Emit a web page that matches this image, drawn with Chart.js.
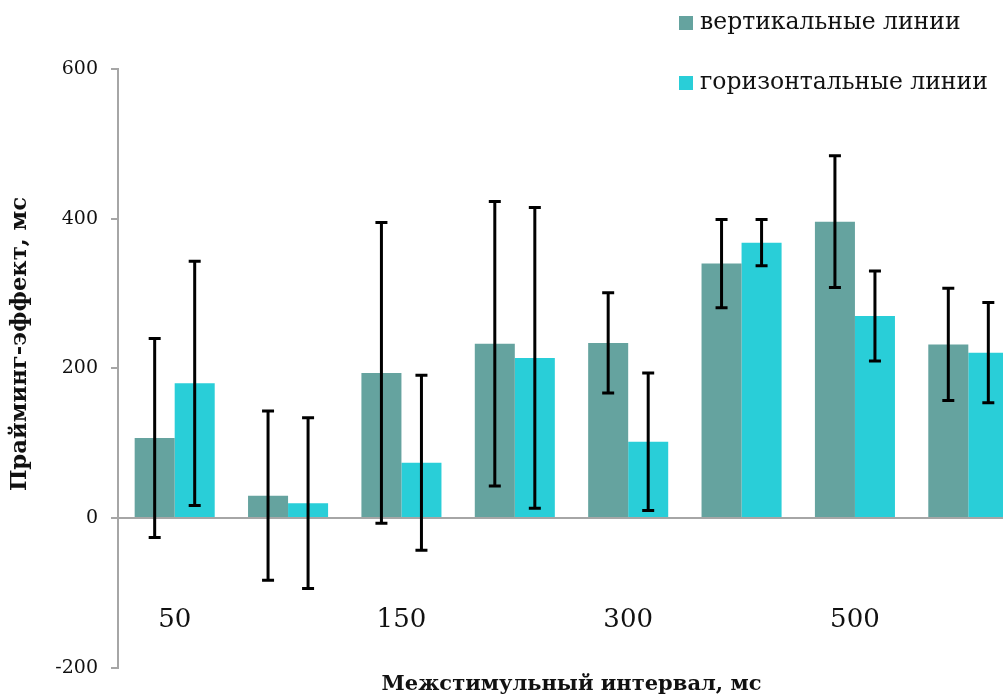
<!DOCTYPE html>
<html>
<head>
<meta charset="utf-8">
<script src="https://cdn.jsdelivr.net/npm/chart.js@4"></script>
<style>
    html, body { margin: 0; padding: 0; background: #fff; overflow: hidden; }
    canvas { display: block; }
</style>
</head>
<body>
<!-- canvas is a bit wider than the window: the original picture is cropped on the right -->
<canvas id="myChart" width="1030" height="695"></canvas>
<script>
// intervals; Excel only printed every other label
var labels = ['50', '', '150', '', '300', '', '500', ''];
var vertical = [107, 30, 194, 233, 234, 340, 396, 232];
var verticalErr = [133, 113, 201, 190, 67, 59, 88, 75];
var horizontal = [180, 20, 74, 214, 102, 368, 270, 221];
var horizontalErr = [163, 114, 117, 201, 92, 31, 60, 67];
var yTicks = [-200, 0, 200, 400, 600];
var yTitle = 'Прайминг-эффект, мс';

var serif = "'DejaVu Serif', serif";

// error bars: drawn from each bar's x and the y scale
const errorBars = {
    id: 'errorBars',
    afterDatasetsDraw(chart) {
        const ctx = chart.ctx;
        const y = chart.scales.y;
        ctx.save();
        ctx.strokeStyle = '#000';
        ctx.lineWidth = 3;
        chart.data.datasets.forEach(function (ds, i) {
            const meta = chart.getDatasetMeta(i);
            meta.data.forEach(function (bar, j) {
                const v = ds.data[j], e = ds.err[j];
                const top = y.getPixelForValue(v + e);
                const bot = y.getPixelForValue(v - e);
                ctx.beginPath();
                ctx.moveTo(bar.x, top);
                ctx.lineTo(bar.x, bot);
                ctx.moveTo(bar.x - 6, top);
                ctx.lineTo(bar.x + 6, top);
                ctx.moveTo(bar.x - 6, bot);
                ctx.lineTo(bar.x + 6, bot);
                ctx.stroke();
            });
        });
        ctx.restore();
    }
};

// floating legend top right + y title (sits a bit above the axis middle in the original)
const extras = {
    id: 'extras',
    afterDraw(chart) {
        const ctx = chart.ctx;
        ctx.save();
        ctx.font = "23.5px " + serif;
        ctx.textBaseline = 'middle';
        chart.data.datasets.forEach(function (ds, i) {
            const yy = 23 + i * 60;
            ctx.fillStyle = ds.backgroundColor;
            ctx.fillRect(679, yy - 7, 14, 14);
            ctx.fillStyle = '#111';
            ctx.fillText(ds.label, 700, yy);
        });
        ctx.translate(20, 344);
        ctx.rotate(-Math.PI / 2);
        ctx.textAlign = 'center';
        ctx.font = "bold 22.7px " + serif;
        ctx.fillText(yTitle, 0, 0);
        ctx.restore();
    }
};

const ctx = document.getElementById('myChart').getContext('2d');
const myChart = new Chart(ctx, {
    type: 'bar',
    data: {
        labels: labels,
        datasets: [{
            label: 'вертикальные линии',
            data: vertical,
            err: verticalErr,
            backgroundColor: '#65A39F',
            borderWidth: 0,
        }, {
            label: 'горизонтальные линии',
            data: horizontal,
            err: horizontalErr,
            backgroundColor: '#29CED8',
            borderWidth: 0,
        }],
    },
    options: {
        responsive: false,
        animation: false,
        devicePixelRatio: 1,
        categoryPercentage: 0.706,
        barPercentage: 1,
        layout: {
            padding: { left: 0, top: 69, right: 5, bottom: 0 }
        },
        plugins: {
            legend: { display: false },
            tooltip: { enabled: false },
            title: {
                display: true,
                position: 'bottom',
                fullSize: false,
                text: 'Межстимульный интервал, мс',
                color: '#111',
                font: { family: serif, size: 21, weight: 'bold' },
                padding: { top: 4, bottom: -2 }
            }
        },
        scales: {
            x: {
                position: { y: 0 },
                grid: { display: false, drawTicks: false },
                border: { display: true, color: '#a6a6a6', width: 2 },
                ticks: {
                    autoSkip: false,
                    maxRotation: 0,
                    padding: 3,
                    color: '#111',
                    // tall line height pushes the labels well below the zero line
                    font: { family: serif, size: 26, lineHeight: '199px' }
                }
            },
            y: {
                min: -200,
                max: 600,
                afterBuildTicks: function (axis) {
                    axis.ticks = yTicks.map(function (v) { return { value: v }; });
                },
                afterFit: function (axis) { axis.width = 118; },
                grid: { drawOnChartArea: false, color: '#a6a6a6', tickLength: 7, lineWidth: 2 },
                border: { display: true, color: '#a6a6a6', width: 2 },
                ticks: {
                    padding: 13,
                    color: '#111',
                    font: { family: serif, size: 19 }
                }
            }
        }
    },
    plugins: [errorBars, extras]
});
</script>
</body>
</html>
